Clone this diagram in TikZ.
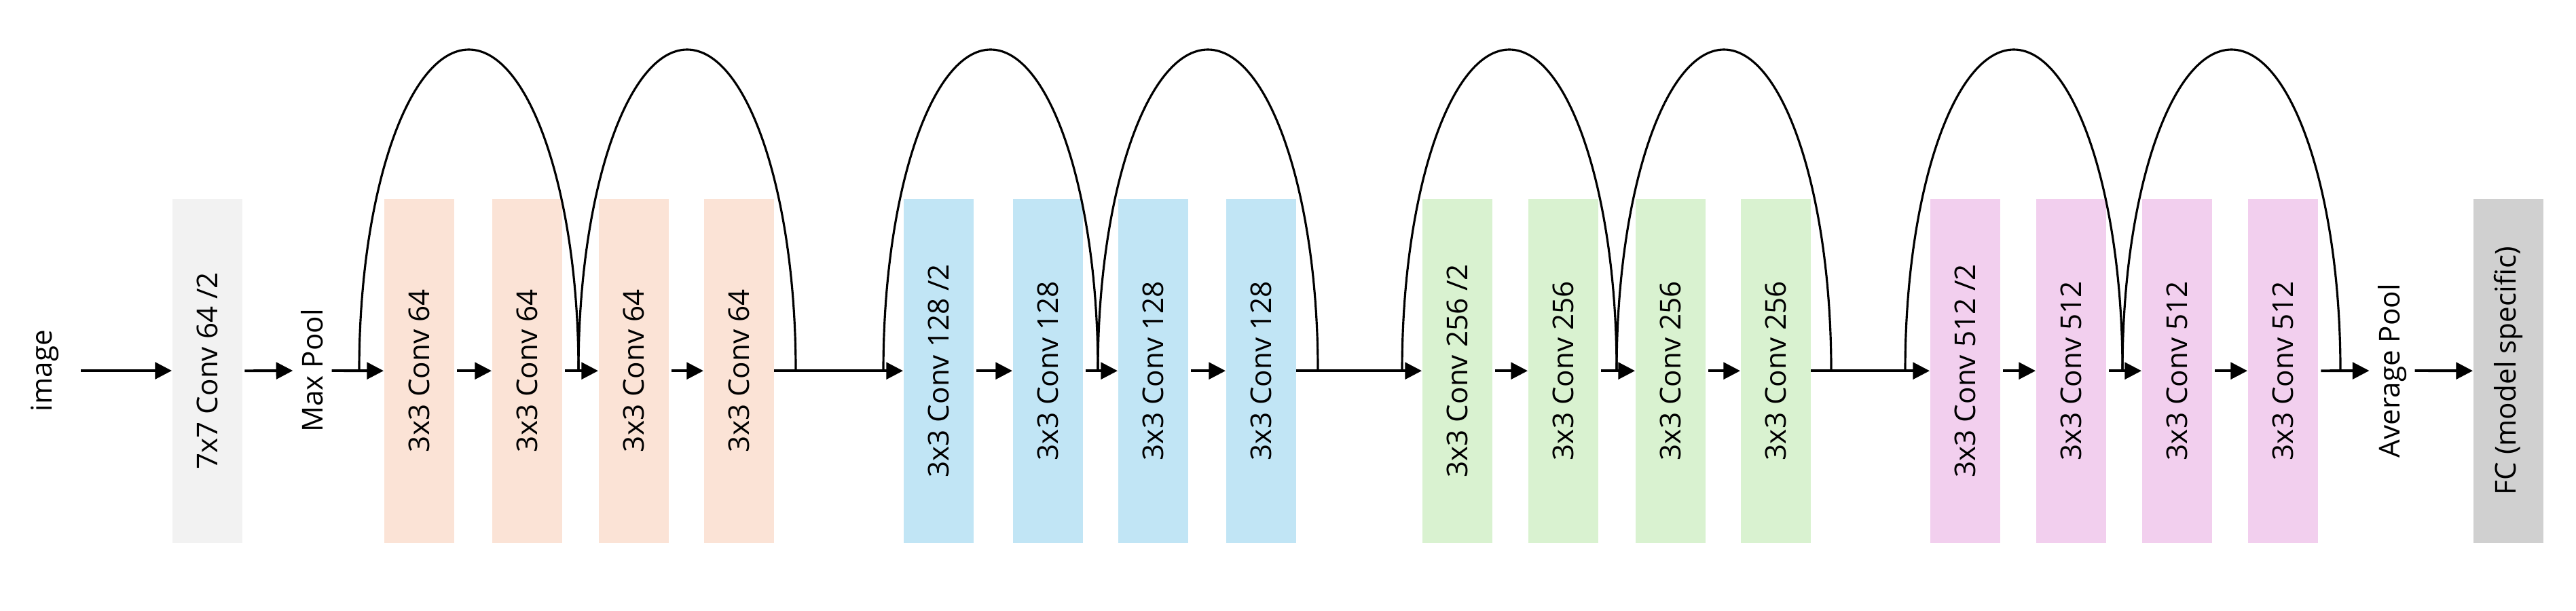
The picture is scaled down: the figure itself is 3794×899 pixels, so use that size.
\documentclass[tikz,border=0pt]{standalone}
\usepackage{fontspec}
\setmainfont{Open Sans}
\usetikzlibrary{arrows.meta}
\definecolor{cgray}{HTML}{F2F2F2}
\definecolor{cfc}{HTML}{D0D0D0}
\definecolor{cpeach}{HTML}{FBE3D6}
\definecolor{cblue}{HTML}{C1E5F5}
\definecolor{cgreen}{HTML}{D9F2D0}
\definecolor{cpink}{HTML}{F2CFEE}
\begin{document}
\begin{tikzpicture}[x=0.01cm,y=-0.01cm,
  blk/.style={draw=none,minimum width=103*0.01cm,minimum height=507*0.01cm,inner sep=0pt,anchor=north west},
  lbl/.style={rotate=90,font=\fontsize{12}{14}\selectfont},
  arr/.style={line width=1.1pt,-{Triangle[length=7pt,width=7pt]}},
  skip/.style={line width=0.9pt}]
\useasboundingbox (0,0) rectangle (3794,899);
\def\Y{546}
% nodes
\node[lbl] (img) at (66,\Y) {image};
\node[blk,fill=cgray] (c7) at (253,292) {};
\node[lbl] at (c7.center) {7x7 Conv 64 /2};
\node[lbl] (mp) at (460,\Y) {Max Pool};
\foreach \n/\x/\c/\t in {
  a1/565/cpeach/{3x3 Conv 64}, a2/724/cpeach/{3x3 Conv 64}, a3/881/cpeach/{3x3 Conv 64}, a4/1036/cpeach/{3x3 Conv 64},
  b1/1330/cblue/{3x3 Conv 128 /2}, b2/1491/cblue/{3x3 Conv 128}, b3/1646/cblue/{3x3 Conv 128}, b4/1805/cblue/{3x3 Conv 128},
  c1/2094/cgreen/{3x3 Conv 256 /2}, c2/2250/cgreen/{3x3 Conv 256}, c3/2408/cgreen/{3x3 Conv 256}, c4/2563/cgreen/{3x3 Conv 256},
  d1/2842/cpink/{3x3 Conv 512 /2}, d2/2998/cpink/{3x3 Conv 512}, d3/3154/cpink/{3x3 Conv 512}, d4/3310/cpink/{3x3 Conv 512}}{
  \node[blk,fill=\c] (\n) at (\x,292) {};
  \node[lbl] at (\n.center) {\t};
}
\node[lbl] (ap) at (3523,\Y) {Average Pool};
\node[blk,fill=cfc] (fc) at (3642,292) {};
\node[lbl] at (fc.center) {FC (model specific)};
% arrows
\draw[arr] (img.south) ++(20,0) coordinate (i0) -- (c7.west |- i0);
\draw[arr] (c7.east) ++(3,0) -- (mp.north);
\draw[arr] (mp.south) -- (a1.west);
\foreach \p/\q in {a1/a2,a2/a3,a3/a4,b1/b2,b2/b3,b3/b4,c1/c2,c2/c3,c3/c4,d1/d2,d2/d3,d3/d4}{
  \draw[arr] ([xshift=4*0.01cm]\p.east) -- (\q.west);
}
\draw[arr] (a4.east) -- (b1.west);
\draw[arr] (b4.east) -- (c1.west);
\draw[arr] (c4.east) -- (d1.west);
\draw[arr] ([xshift=4*0.01cm]d4.east) -- (ap.north);
\draw[arr] (ap.south) -- (fc.west);
% skip connections
\foreach \s/\e in {529/852,852/1172,1301/1617,1617/1941,2065/2381,2381/2697,2806/3126,3126/3447}{
  \pgfmathsetmacro\r{(\e-\s)/2}
  \draw[skip] (\s,\Y) arc[start angle=180,end angle=0,x radius=\r*0.01cm,y radius=473*0.01cm];
}
\end{tikzpicture}
\end{document}
